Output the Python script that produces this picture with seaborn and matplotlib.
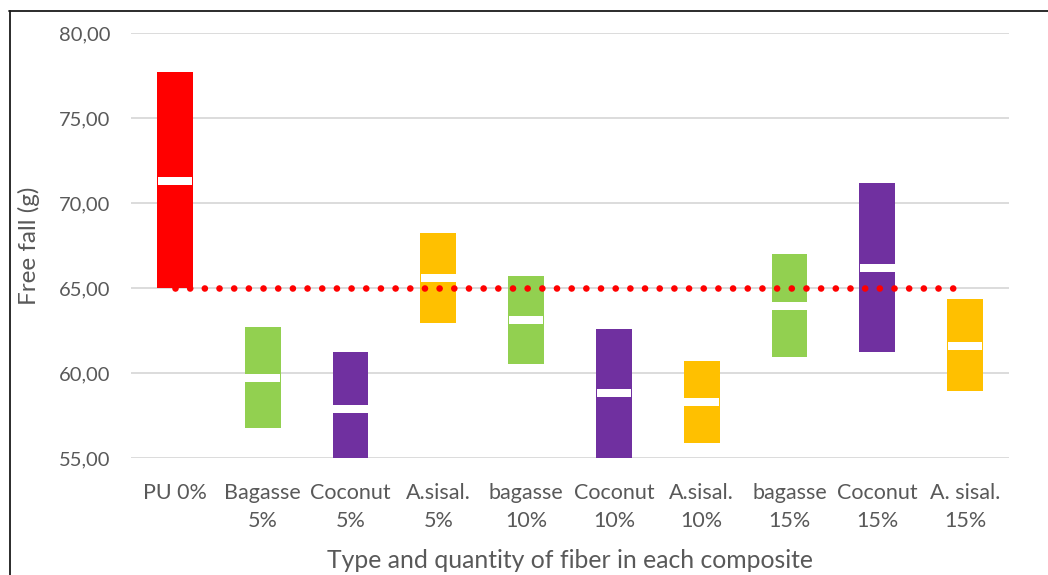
import numpy as np
import pandas as pd
import matplotlib
matplotlib.use("Agg")
import matplotlib.pyplot as plt
from matplotlib.lines import Line2D
import seaborn as sns

# Free-fall results per composite: range (low..high) and mean
categories = ["PU 0%", "Bagasse\n5%", "Coconut\n5%", "A.sisal.\n5%", "bagasse\n10%",
              "Coconut\n10%", "A.sisal.\n10%", "bagasse\n15%", "Coconut\n15%", "A. sisal.\n15%"]
low = [65.00, 56.78, 55.00, 62.96, 60.55, 55.00, 55.90, 60.96, 61.25, 58.96]
high = [77.71, 62.71, 61.24, 68.24, 65.71, 62.59, 60.71, 67.00, 71.18, 64.35]
mean = [71.30, 59.72, 57.90, 65.60, 63.12, 58.84, 58.30, 63.94, 66.18, 61.59]
reference = [65.00] * len(categories)
bar_colors = ["#FF0000", "#92D050", "#7030A0", "#FFC000", "#92D050",
              "#7030A0", "#FFC000", "#92D050", "#7030A0", "#FFC000"]
yticks = [55, 60, 65, 70, 75, 80]

sns.set_theme(style="white")
plt.rcParams["font.family"] = ["Lato", "DejaVu Sans"]

TXT = "#595959"
GRID = "#D9D9D9"
BAND = 0.235  # half-thickness of the mean marker

df = pd.DataFrame({"category": categories, "low": low, "high": high, "mean": mean})
df["span"] = df["high"] - df["low"]
df["band_bottom"] = df["mean"] - BAND

fig = plt.figure(figsize=(10.48, 5.75), dpi=100)
ax = fig.add_axes([131 / 1048, 1 - 458 / 575, 878 / 1048, 425 / 575])

ax.set_ylim(55, 80)
ax.set_yticks(yticks)
ax.set_yticklabels([f"{v:.2f}".replace(".", ",") for v in yticks])
ax.yaxis.grid(True, color=GRID, linewidth=1.3)
ax.set_axisbelow(True)

# floating range bars
sns.barplot(data=df, x="category", y="span", bottom=df["low"].to_numpy(),
            width=0.41, color="#FF0000", saturation=1, ax=ax, zorder=2)
for patch, c in zip(ax.patches, bar_colors):
    patch.set_facecolor(c)
    patch.set_edgecolor("none")

# white mean marker
n_before = len(ax.patches)
sns.barplot(data=df, x="category", y=[2 * BAND] * len(df),
            bottom=df["band_bottom"].to_numpy(), width=0.395,
            color="white", saturation=1, ax=ax, zorder=3)
for patch in ax.patches[n_before:]:
    patch.set_edgecolor("none")

# reference level
sns.lineplot(x=np.arange(len(categories)), y=reference, ax=ax, color="#FF0000",
             linewidth=4.8, linestyle=(0, (0.001, 2.2)), dash_capstyle="round", zorder=4)

ax.set_xlim(-0.5, len(categories) - 0.5)
for s in ax.spines.values():
    s.set_visible(False)

ax.tick_params(axis="y", length=0, pad=15, labelsize=14.5, labelcolor=TXT)
ax.tick_params(axis="x", length=0, pad=18, labelsize=15.5, labelcolor=TXT)
for lab in ax.get_xticklabels():
    lab.set_linespacing(1.5)

ax.set_xlabel("Type and quantity of fiber in each composite", fontsize=17.8, color=TXT, labelpad=13)
ax.set_ylabel("Free fall (g)", fontsize=17.5, color=TXT)
ax.yaxis.set_label_coords(-(131 - 40) / 878, 0.5)

# chart frame
fig.add_artist(Line2D([9 / 1048, 1], [1 - 11 / 575, 1 - 11 / 575], transform=fig.transFigure,
                      color="#1a1a1a", linewidth=1.3))
fig.add_artist(Line2D([9.5 / 1048, 9.5 / 1048], [0, 1 - 11 / 575], transform=fig.transFigure,
                      color="#1a1a1a", linewidth=1.3))

fig.savefig("out.png", dpi=100)
